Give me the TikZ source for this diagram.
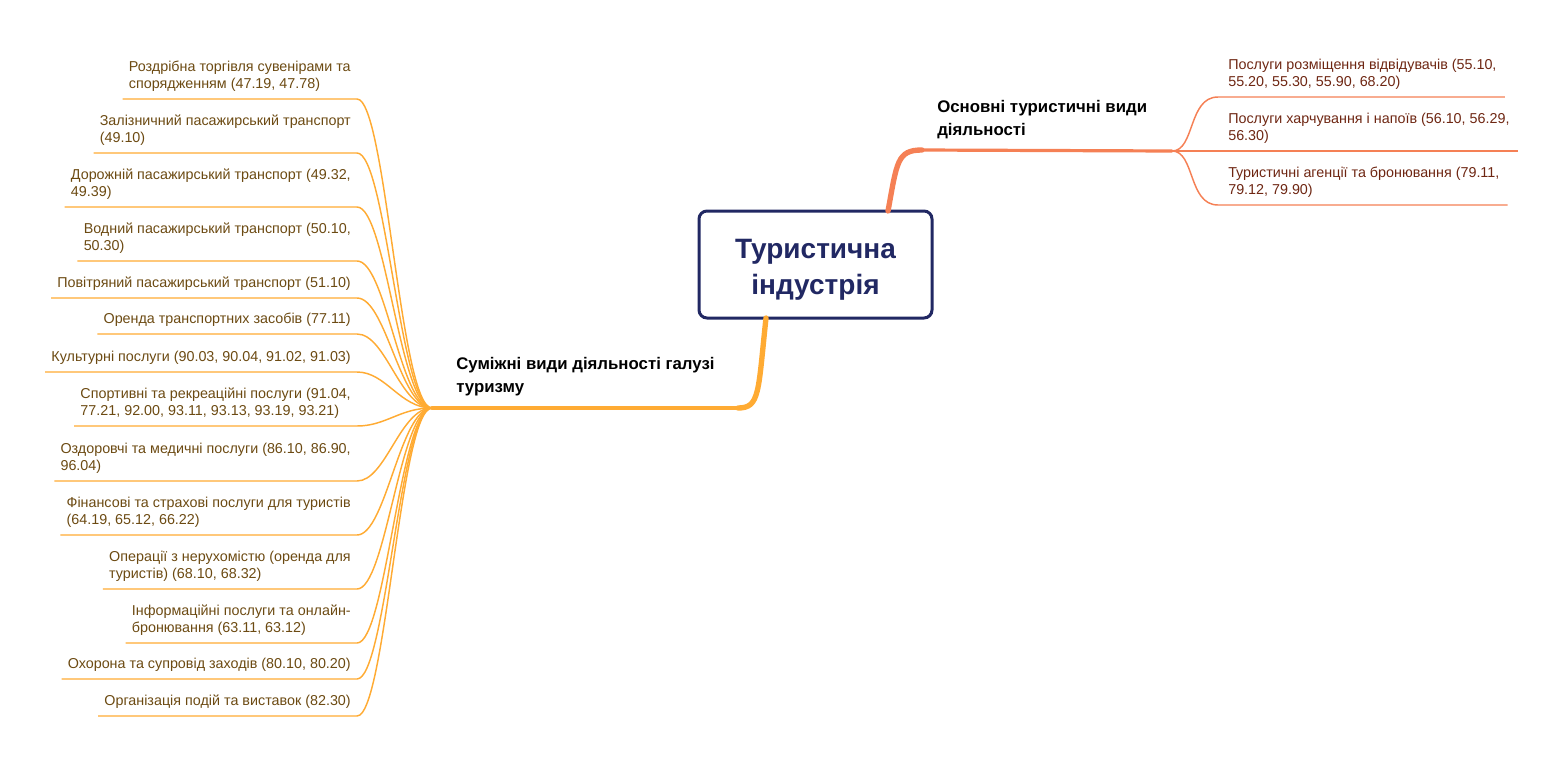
\documentclass[tikz,border=0pt]{standalone}
\usepackage{fontspec}
\setmainfont{Liberation Sans}
\definecolor{navy}{RGB}{33,40,99}
\definecolor{coral}{RGB}{245,128,85}
\definecolor{amber}{RGB}{255,171,51}
\definecolor{rtext}{RGB}{110,38,18}
\definecolor{ltext}{RGB}{108,74,18}
\begin{document}
\begin{tikzpicture}[x=0.75pt,y=-0.75pt,
  leafL/.style={anchor=south east, inner xsep=4.5pt, inner ysep=0pt, align=left, text=ltext, font=\fontsize{10.75}{13}\selectfont},
  leafR/.style={anchor=south west, inner xsep=6pt, inner ysep=0pt, align=left, text=rtext, font=\fontsize{10.75}{13}\selectfont},
  lconn/.style={draw=amber, line width=1.1pt},
  rconn/.style={draw=coral, line width=1.1pt},
  blabel/.style={anchor=base west, inner sep=0pt, align=left, text=black, font=\bfseries\fontsize{12.6}{16.8}\selectfont},
  central/.style={draw=navy, line width=2.25pt, rounded corners=6pt, fill=white, minimum width=174.75pt, minimum height=80.25pt, align=center, text=navy, font=\bfseries\fontsize{21}{27}\selectfont}
]
\useasboundingbox (0,0) rectangle (1562,768);

% central
\node[central] (c) at (815.5,264.5) {\rule{0pt}{23pt}Туристична\\індустрія};

% hubs and branch anchors
\coordinate (ct) at (888,211);
\coordinate (cb) at (766,318);
\coordinate (rhub) at (1172,151);
\coordinate (lhub) at (432,408);

% main branches
\draw[coral, line width=4pt, line cap=round] (ct) .. controls (897,162) and (897,150) .. (922,150);
\draw[coral, line width=2.4pt, line cap=round] (921,150) -- (rhub);
\draw[amber, line width=4pt, line cap=round] (cb) .. controls (758,392) and (760,408) .. (738,408);
\draw[amber, line width=2.8pt, line cap=round] (740,408) -- (lhub);

% branch labels
\node[blabel] (rb) at (937,135) {Основні туристичні види\\діяльності};
\node[blabel] (lb) at (456,392) {Суміжні види діяльності галузі\\туризму};

% right leaves
\node[leafR] (r1) at (1220,90) {Послуги розміщення відвідувачів (55.10,\\55.20, 55.30, 55.90, 68.20)};
\node[leafR] (r2) at (1220,144) {Послуги харчування і напоїв (56.10, 56.29,\\56.30)};
\node[leafR] (r3) at (1220,198) {Туристичні агенції та бронювання (79.11,\\79.12, 79.90)};
\coordinate (f1) at (1218,97);
\coordinate (f3) at (1218,205);
\draw[rconn] (rhub) .. controls (1195,151) and (1188,97) .. (f1) -- (f1 -| r1.east);
\draw[rconn] (rhub) -- (rhub -| r2.east);
\draw[rconn] (rhub) .. controls (1195,151) and (1188,205) .. (f3) -- (f3 -| r3.east);

% left leaves
\foreach \n/\y/\t in {
  1/99/{Роздрібна торгівля сувенірами та\\спорядженням (47.19, 47.78)},
  2/153/{Залізничний пасажирський транспорт\\(49.10)},
  3/207/{Дорожній пасажирський транспорт (49.32,\\49.39)},
  4/261/{Водний пасажирський транспорт (50.10,\\50.30)},
  5/298/{Повітряний пасажирський транспорт (51.10)},
  6/334/{Оренда транспортних засобів (77.11)},
  7/372/{Культурні послуги (90.03, 90.04, 91.02, 91.03)},
  8/426/{Спортивні та рекреаційні послуги (91.04,\\77.21, 92.00, 93.11, 93.13, 93.19, 93.21)},
  9/481/{Оздоровчі та медичні послуги (86.10, 86.90,\\96.04)},
  10/535/{Фінансові та страхові послуги для туристів\\(64.19, 65.12, 66.22)},
  11/589/{Операції з нерухомістю (оренда для\\туристів) (68.10, 68.32)},
  12/643/{Інформаційні послуги та онлайн-\\бронювання (63.11, 63.12)},
  13/679/{Охорона та супровід заходів (80.10, 80.20)},
  14/716/{Організація подій та виставок (82.30)}} {
  \node[leafL] (l\n) at (357,\y-7) {\t};
  \coordinate (e\n) at (357,\y);
  \draw[lconn] (lhub) .. controls (400,408) and (386,\y) .. (e\n) -- (e\n -| l\n.west);
}
\end{tikzpicture}
\end{document}
